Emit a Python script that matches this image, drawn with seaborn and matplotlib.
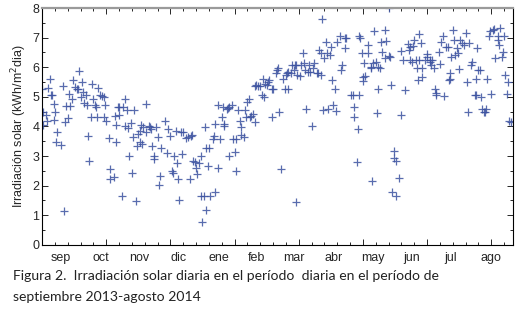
import pandas as pd
import matplotlib
matplotlib.use("Agg")
import matplotlib.pyplot as plt
from matplotlib.ticker import MultipleLocator
import seaborn as sns

# daily readings, day 0 = 1 sep 2013
dia = [0, 1, 1, 3, 4, 5, 6, 7, 8, 9, 9, 10, 11, 12, 15, 16, 17, 18, 19, 20,
       21, 22, 23, 24, 26, 27, 28, 29, 30, 31, 32, 33, 34, 35, 36, 37, 38, 39, 40, 41,
       42, 43, 44, 45, 47, 48, 48, 49, 50, 52, 53, 53, 56, 57, 58, 58, 59, 60, 60, 62,
       63, 65, 65, 66, 67, 68, 69, 70, 71, 72, 73, 74, 75, 76, 76, 77, 78, 79, 81, 81,
       83, 84, 85, 86, 87, 87, 89, 90, 91, 92, 93, 96, 97, 98, 100, 101, 102, 103, 104, 105,
       106, 107,
       108, 109, 110, 112, 114, 115, 116, 117, 118, 119, 120, 121, 122, 124, 124, 125, 126, 127,
       128, 128, 129, 130, 131, 133, 134, 135, 135, 137, 137, 139, 140, 141, 142, 142, 144, 145,
       146, 146, 148, 149, 150, 151, 151, 153, 154, 155, 155, 157, 158, 159, 160, 161, 162, 163,
       164, 166, 166, 167, 168, 170, 171, 172, 173, 174, 175, 176, 177, 179, 179, 180, 182, 183,
       184, 185, 186, 188, 189, 190, 191, 192, 192, 194, 195, 196, 197, 198, 198, 199, 201, 202,
       203, 204, 205, 206, 207, 208, 209, 210, 211, 212, 214, 215, 216, 217, 217, 218, 219, 220,
       221, 222, 223, 224, 225, 226, 227, 228, 229, 230, 232, 233, 234, 236, 236, 237,
       241, 242, 247, 243, 243, 245, 246, 247, 248, 249, 250, 250, 251, 252, 254, 254, 256, 256,
       257, 258, 259, 260, 261, 262, 262, 263, 264, 265, 267, 267, 268, 270, 271, 272, 270, 274,
       274, 276, 278, 273, 276, 280, 280, 281, 283, 285, 286, 287, 287, 288, 289, 290, 291, 292,
       293, 294, 294, 295, 296, 296, 298, 300, 300, 302, 302, 303, 304, 305, 306, 307, 307, 309,
       310, 311, 312, 313, 315, 316, 317, 318, 318, 319, 320, 321, 322, 323, 324, 325, 326, 327,
       329, 330, 331, 332, 333, 334, 335, 337, 338, 338, 339, 340, 341, 342, 343, 344, 345, 346,
       347, 348, 349, 350, 351, 352, 353, 355, 355, 356, 357, 358, 359, 360, 361, 362, 363, 364,
       365]

irradiacion = [5.28, 4.05, 4.48, 4.40, 4.20, 5.30, 5.60, 5.05, 5.05, 4.77, 4.23, 4.50, 3.48, 3.80, 3.38, 5.37, 1.13, 4.14, 4.69, 4.28,
               5.10, 4.70, 4.94, 5.56, 5.33, 5.28, 5.28, 5.87, 5.00, 5.50, 5.17, 4.80, 5.07, 4.73, 3.67, 2.84, 4.31, 5.45, 4.94, 4.71,
               4.65, 4.31, 5.30, 5.05, 5.02, 4.98, 4.31, 4.73, 4.17, 3.60, 2.24, 2.55, 2.29, 4.37, 3.46, 4.05, 4.65, 4.39, 4.65, 1.65,
               4.65, 4.94, 4.00, 4.54, 3.94, 3.00, 4.12, 2.44, 3.63, 4.56, 1.47, 3.33, 3.75, 3.46, 3.86, 4.05, 3.40, 3.97, 4.77, 3.80,
               4.03, 3.97, 3.91, 3.35, 3.00, 2.90, 3.97, 3.63, 2.04, 2.33, 3.26, 4.20, 3.12, 3.91, 3.69, 2.50, 2.44, 3.00, 3.86, 2.78,
               2.21, 1.53,
               3.83, 3.06, 3.83, 3.60, 3.63, 2.21, 3.69, 3.71, 2.84, 2.81, 2.61, 2.38, 2.78, 2.99, 1.65, 0.79, 1.65, 3.97,
               3.26, 1.19, 2.67, 3.26, 1.65, 3.58, 3.67, 4.09, 1.78, 2.59, 4.71, 3.58, 4.31, 4.65, 4.03, 4.09, 4.60, 4.62,
               3.01, 4.65, 4.71, 3.58, 3.14, 2.50, 3.58, 4.54, 4.20, 3.97, 3.71, 3.63, 4.54, 4.31, 4.82, 4.94, 4.31, 4.37,
               4.43, 4.14, 5.37, 5.41, 5.37, 5.37, 5.05, 5.62, 4.99, 5.45, 5.41, 5.50, 5.56, 5.28, 4.31, 5.26, 5.82, 5.90,
               5.96, 4.48, 2.55, 5.62, 5.26, 5.75, 5.79, 5.26, 5.85, 5.79, 6.07, 5.90, 6.09, 1.45, 6.07, 5.75, 5.71, 6.07,
               6.47, 6.16, 5.90, 4.60, 5.85, 6.07, 5.85, 4.03, 5.96, 6.13, 5.79, 5.79, 6.58, 6.47, 5.75, 7.64, 4.54, 6.30,
               6.84, 6.47, 4.60, 6.41, 6.70, 5.56, 4.71, 5.28, 4.52, 6.87, 7.04, 5.90, 6.07, 6.66, 7.00, 6.98,
               5.05, 5.07, 5.07, 4.31, 4.65, 2.80, 3.92, 7.04, 7.00, 6.47, 5.53, 5.68, 6.13, 5.71, 6.75, 6.47, 5.96, 6.02,
               2.16, 6.13, 7.23, 6.19, 4.46, 5.28, 6.02, 5.99, 6.87, 6.53, 7.26, 6.30, 6.89, 6.39, 6.36, 5.41, 8.00, 3.18,
               2.95, 2.84, 2.27, 1.78, 1.65, 4.39, 6.55, 6.24, 5.22, 6.78, 6.58, 6.24, 6.70, 6.19, 6.73, 6.92, 6.24, 5.96,
               5.56, 7.12, 6.24, 6.81, 5.96, 5.68, 6.24, 6.44, 6.36, 6.19, 6.24, 6.07, 6.24, 5.99, 5.26, 5.05, 5.14, 6.50,
               6.10, 6.87, 7.04, 5.03, 6.70, 6.70, 5.56, 5.62, 5.79, 6.36, 7.26, 6.92, 6.41, 6.64, 6.47, 5.94, 6.92, 6.81,
               6.75, 7.15, 5.50, 4.48, 6.81, 6.09, 6.19, 5.05, 5.62, 5.05, 6.66, 5.90, 5.90, 4.99, 4.60, 4.48, 4.50, 4.60,
               5.62, 7.04, 7.23, 5.11, 7.26, 7.30, 6.30, 7.04, 6.92, 6.75, 7.34, 6.36, 6.53, 7.04, 5.73, 5.11, 5.50, 4.20,
               4.14]

meses = ["sep", "oct", "nov", "dic", "ene", "feb", "mar", "abr", "may", "jun", "jul", "ago"]
dias_mes = [30, 31, 30, 31, 31, 28, 31, 30, 31, 30, 31, 31]

df = pd.DataFrame({"dia": dia, "irradiacion": irradiacion})

sns.set_style("ticks")
plt.rcParams["font.family"] = ["Liberation Sans", "DejaVu Sans"]

fig = plt.figure(figsize=(5.16, 3.10), dpi=100)
ax = fig.add_axes([0.0814, 0.21, 0.913, 0.764])

sns.scatterplot(data=df, x="dia", y="irradiacion", marker="+", s=30,
                color="#3c52a0", linewidth=0.9, alpha=0.85, ax=ax)

ax.set_xlim(0, 367)
ax.set_ylim(0, 8)
ax.set_xlabel("")
ax.set_ylabel("Irradiación solar (kWh/m$^2$dia)", fontsize=9, labelpad=2)

ax.xaxis.set_major_locator(MultipleLocator(50))
ax.xaxis.set_minor_locator(MultipleLocator(10))
ax.yaxis.set_major_locator(MultipleLocator(1))
ax.yaxis.set_minor_locator(MultipleLocator(0.5))
ax.tick_params(axis="both", which="both", direction="in", top=True, right=True, width=0.7)
ax.tick_params(axis="both", which="major", length=4)
ax.tick_params(axis="both", which="minor", length=2)
ax.tick_params(axis="x", which="major", labelbottom=False)
ax.tick_params(axis="y", labelsize=9, pad=2)

# month names at the middle of each month
centros = []
acum = 0
for n in dias_mes:
    centros.append(acum + n / 2)
    acum += n
sec = ax.secondary_xaxis("bottom")
sec.set_xticks(centros)
sec.set_xticklabels(meses, fontsize=9)
sec.tick_params(length=0, pad=5)
sec.spines["bottom"].set_visible(False)

for s in ["left", "right", "bottom"]:
    ax.spines[s].set_linewidth(0.8)
    ax.spines[s].set_color("black")
ax.spines["top"].set_color("#9a9a9a")
ax.spines["top"].set_linewidth(1.6)

fig.text(0.025, 0.11, "Figura 2.  Irradiación solar diaria en el período  diaria en el período de",
         fontsize=10.1, family=["Lato", "DejaVu Sans"], color="#222222", va="center")
fig.text(0.025, 0.042, "septiembre 2013-agosto 2014",
         fontsize=10.1, family=["Lato", "DejaVu Sans"], color="#222222", va="center")

fig.savefig("out.png", dpi=100)
